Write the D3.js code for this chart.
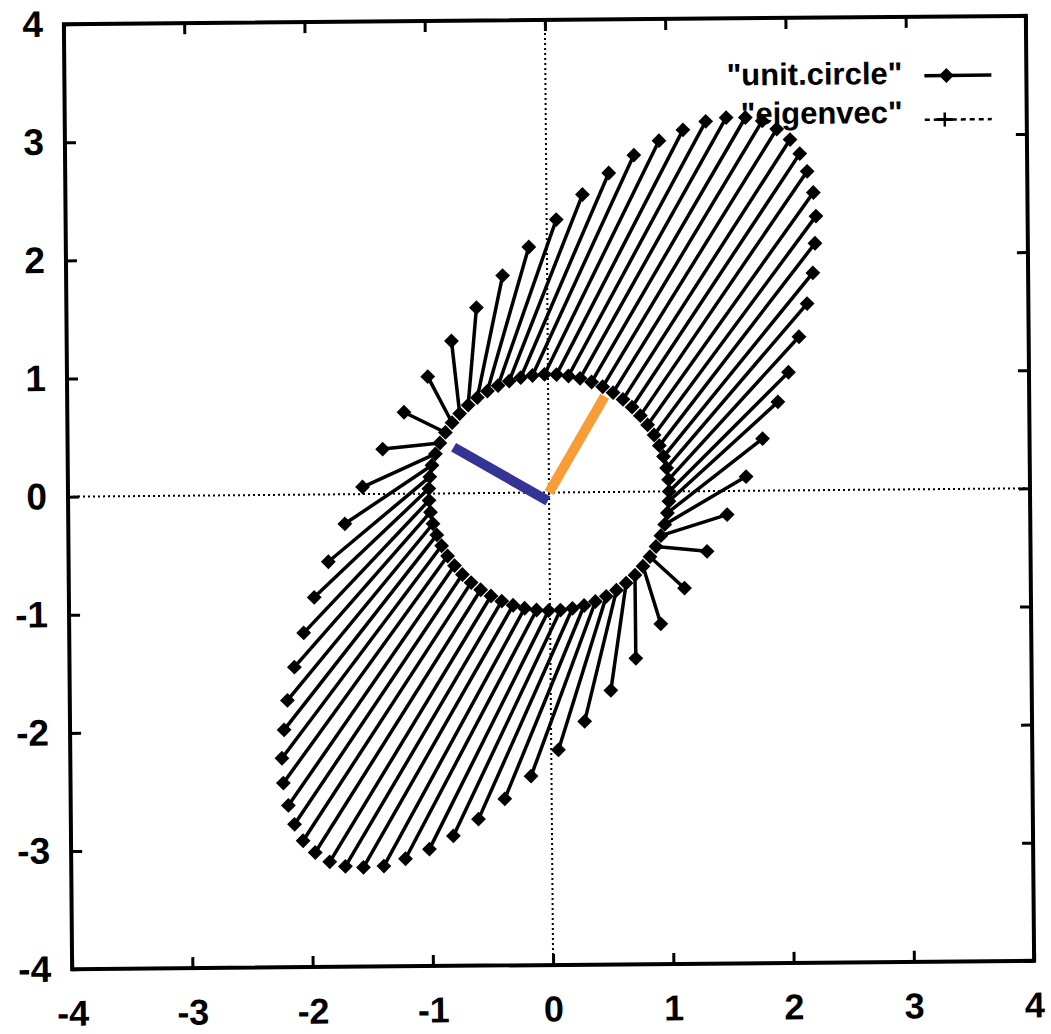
<!DOCTYPE html>
<html>
<head>
<meta charset="utf-8">
<script src="https://cdn.jsdelivr.net/npm/d3@7"></script>
<style>
  body { margin: 0; background: #fff; }
  text { font-family: "Liberation Sans", Arial, sans-serif; font-weight: bold; fill: #000; }
</style>
</head>
<body>
<svg id="svg1" width="1051" height="1034"></svg>
<script>
// points on the unit circle
let circleX = [1.000,0.995,0.980,0.955,0.921,0.878,0.825,0.765,0.697,0.622,0.540,0.454,0.362,0.267,0.170,0.071,-0.029,-0.129,-0.227,-0.323,-0.416,-0.505,-0.589,-0.666,-0.737,-0.801,-0.857,-0.904,-0.942,-0.971,-0.990,-0.999,-0.998,-0.987,-0.967,-0.936,-0.897,-0.848,-0.791,-0.726,-0.654,-0.575,-0.490,-0.401,-0.307,-0.211,-0.112,-0.012,0.087,0.187,0.284,0.378,0.469,0.554,0.635,0.709,0.776,0.835,0.886,0.927,0.960,0.983,0.997];
let circleY = [0.000,0.100,0.199,0.296,0.389,0.479,0.565,0.644,0.717,0.783,0.841,0.891,0.932,0.964,0.985,0.997,1.000,0.992,0.974,0.946,0.909,0.863,0.808,0.746,0.675,0.598,0.516,0.427,0.335,0.239,0.141,0.042,-0.058,-0.158,-0.256,-0.351,-0.443,-0.530,-0.612,-0.688,-0.757,-0.818,-0.872,-0.916,-0.952,-0.978,-0.994,-1.000,-0.996,-0.982,-0.959,-0.926,-0.883,-0.832,-0.773,-0.706,-0.631,-0.551,-0.465,-0.374,-0.279,-0.182,-0.083];

// where each circle point lands (outer ellipse of diamonds)
let ellipseX = [2.00,2.09,2.16,2.21,2.23,2.24,2.22,2.17,2.11,2.03,1.92,1.80,1.66,1.50,1.33,1.14,0.94,0.73,0.52,0.30,0.08,-0.15,-0.37,-0.59,-0.80,-1.00,-1.20,-1.38,-1.55,-1.70,-1.84,-1.96,-2.05,-2.13,-2.19,-2.22,-2.24,-2.23,-2.19,-2.14,-2.07,-1.97,-1.85,-1.72,-1.57,-1.40,-1.22,-1.02,-0.82,-0.61,-0.39,-0.17,0.06,0.28,0.50,0.71,0.92,1.12,1.31,1.48,1.64,1.78,1.91];
let ellipseY = [1.00,1.30,1.58,1.84,2.09,2.32,2.52,2.70,2.85,2.97,3.06,3.13,3.16,3.16,3.13,3.06,2.97,2.85,2.70,2.52,2.31,2.08,1.84,1.57,1.29,0.99,0.69,0.38,0.06,-0.25,-0.57,-0.87,-1.17,-1.46,-1.74,-1.99,-2.23,-2.44,-2.63,-2.79,-2.93,-3.03,-3.11,-3.15,-3.16,-3.15,-3.09,-3.01,-2.90,-2.76,-2.59,-2.40,-2.18,-1.94,-1.68,-1.41,-1.12,-0.82,-0.51,-0.20,0.12,0.44,0.75];

// the two eigenvectors drawn over the plot
let eigenNames = ["major", "minor"];
let eigenX0 = [0.00, -0.01];
let eigenY0 = [0.00, -0.07];
let eigenX1 = [0.47, -0.79];
let eigenY1 = [0.81, 0.39];
let eigenColors = ["#f89c38", "#343495"];

let tickValues = [-4, -3, -2, -1, 0, 1, 2, 3, 4];
let legendLabels = ["\"unit.circle\"", "\"eigenvec\""];

// Dimensions
let plotLeft = 68, plotRight = 1030, plotTop = 20, plotBottom = 965;

let svg = d3.select("#svg1");
svg.append("rect").attr("width", 1051).attr("height", 1034).attr("fill", "#fff");

// the scanned figure sits slightly rotated
const g = svg.append("g").attr("transform", "rotate(-0.5, 549, 492)");

const x = d3.scaleLinear().domain([-4, 4]).range([plotLeft, plotRight]);
const y = d3.scaleLinear().domain([-4, 4]).range([plotBottom, plotTop]);

// dotted zero axes
g.append("line")
    .attr("x1", x(-4)).attr("x2", x(4)).attr("y1", y(0)).attr("y2", y(0))
    .attr("stroke", "#000").attr("stroke-width", 2).attr("stroke-dasharray", "2,3");
g.append("line")
    .attr("x1", x(0)).attr("x2", x(0)).attr("y1", y(-4)).attr("y2", y(4))
    .attr("stroke", "#000").attr("stroke-width", 2).attr("stroke-dasharray", "2,3");

// segments from the circle to the ellipse
let pairs = circleX.map((cx, i) => [[cx, circleY[i]], [ellipseX[i], ellipseY[i]]]);
const line = d3.line().x(d => x(d[0])).y(d => y(d[1]));

g.selectAll(".seg")
    .data(pairs)
    .join("path")
    .attr("class", "seg")
    .attr("d", line)
    .attr("fill", "none")
    .attr("stroke", "#000")
    .attr("stroke-width", 3.5);

const diamond = d3.symbol().type(d3.symbolSquare).size(110);
let allPoints = pairs.flat();
g.selectAll(".pt")
    .data(allPoints)
    .join("path")
    .attr("class", "pt")
    .attr("d", diamond)
    .attr("transform", d => `translate(${x(d[0])},${y(d[1])}) rotate(45)`)
    .attr("fill", "#000");

// eigenvectors
g.selectAll(".eig")
    .data(eigenNames)
    .join("line")
    .attr("class", "eig")
    .attr("x1", (d, i) => x(eigenX0[i]))
    .attr("y1", (d, i) => y(eigenY0[i]))
    .attr("x2", (d, i) => x(eigenX1[i]))
    .attr("y2", (d, i) => y(eigenY1[i]))
    .attr("stroke", (d, i) => eigenColors[i])
    .attr("stroke-width", 10);

// axes: ticks point inward, mirrored on top and right
const fmt = d => String(d);
g.append("g")
    .attr("transform", `translate(0,${plotBottom})`)
    .call(d3.axisBottom(x).tickValues(tickValues).tickSizeInner(-11).tickSizeOuter(0).tickPadding(31).tickFormat(fmt))
    .call(a => a.selectAll("text").style("font-size", "36px").style("font-family", "Liberation Sans, Arial, sans-serif").style("font-weight", "bold"));
g.append("g")
    .attr("transform", `translate(${plotLeft},0)`)
    .call(d3.axisLeft(y).tickValues(tickValues).tickSizeInner(-11).tickSizeOuter(0).tickPadding(21).tickFormat(fmt))
    .call(a => a.selectAll("text").style("font-size", "37px").style("font-family", "Liberation Sans, Arial, sans-serif").style("font-weight", "bold"));
g.append("g")
    .attr("transform", `translate(0,${plotTop})`)
    .call(d3.axisTop(x).tickValues(tickValues).tickSizeInner(-11).tickSizeOuter(0).tickFormat(""));
g.append("g")
    .attr("transform", `translate(${plotRight},0)`)
    .call(d3.axisRight(y).tickValues(tickValues).tickSizeInner(-11).tickSizeOuter(0).tickFormat(""));

g.selectAll(".domain").remove();
g.selectAll(".tick line").attr("stroke", "#000").attr("stroke-width", 3);

// frame
g.append("rect")
    .attr("x", plotLeft).attr("y", plotTop)
    .attr("width", plotRight - plotLeft).attr("height", plotBottom - plotTop)
    .attr("fill", "none").attr("stroke", "#000").attr("stroke-width", 4);

// legend
let legendY = [79, 123];
let legend = g.selectAll(".legend")
    .data(legendLabels)
    .join("g")
    .attr("class", "legend")
    .attr("transform", (d, i) => `translate(0,${legendY[i]})`);

legend.append("text")
    .attr("x", 906)
    .attr("y", (d, i) => i === 0 ? 8 : 3)
    .attr("text-anchor", "end")
    .style("font-size", "31px")
    .text(d => d);

legend.append("line")
    .attr("x1", 928).attr("x2", 995)
    .attr("stroke", "#000")
    .attr("stroke-width", (d, i) => i === 0 ? 3.5 : 2.5)
    .attr("stroke-dasharray", (d, i) => i === 0 ? null : "5,4");

legend.filter((d, i) => i === 0).append("path")
    .attr("d", diamond)
    .attr("transform", "translate(950,0) rotate(45)")
    .attr("fill", "#000");

// the "+" point of the eigenvec key
legend.filter((d, i) => i === 1).append("line")
    .attr("x1", 948).attr("x2", 948).attr("y1", -7).attr("y2", 7)
    .attr("stroke", "#000").attr("stroke-width", 2.5);
legend.filter((d, i) => i === 1).append("line")
    .attr("x1", 940).attr("x2", 956).attr("y1", 0).attr("y2", 0)
    .attr("stroke", "#000").attr("stroke-width", 3);
</script>
</body>
</html>
